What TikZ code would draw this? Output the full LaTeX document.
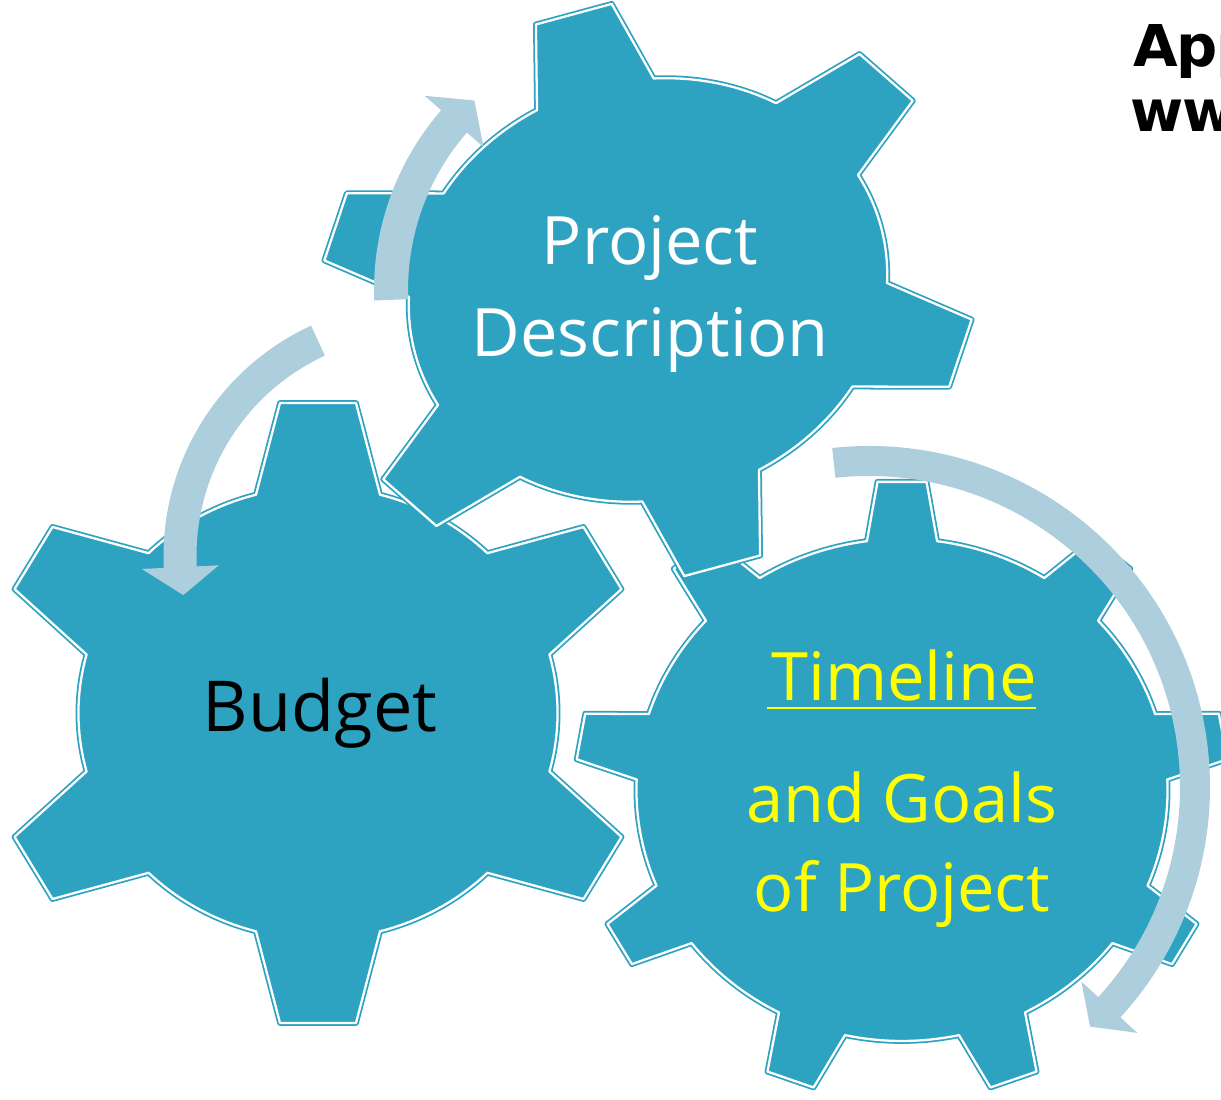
\documentclass[tikz,border=0pt]{standalone}
\usepackage{fontspec}
\setmainfont{Open Sans}
\newfontfamily\webfont[LetterSpace=-3]{DejaVu Sans}
\usetikzlibrary{calc}
\definecolor{gearteal}{HTML}{2EA3C1}
\definecolor{arrowblue}{HTML}{ADCEDC}
\definecolor{textyellow}{HTML}{FFFF00}

\tikzset{
  gear/.style={fill=gearteal, draw=gearteal, double=white, double distance=0.65pt, line width=0.5pt, line join=round},
  turn/.style={fill=arrowblue},
  gearlabel/.style={inner sep=0pt, anchor=base, font=\fontsize{19pt}{19pt}\selectfont},
  webtext/.style={inner sep=0pt, anchor=base west, font=\webfont\bfseries\fontsize{16.4pt}{16.4pt}\selectfont},
}

% teeth, first tooth angle, inner radius, outer radius, base half angle, tip half angle
\newcommand{\gearteeth}[6]{({#2-#5}:#3)
  \foreach \k [evaluate=\k as \ang using #2+(\k-1)*360/#1] in {1,...,#1}{
    -- ({\ang-#6}:#4) -- ({\ang+#6}:#4) -- ({\ang+#5}:#3)
    arc[start angle=\ang+#5, end angle=\ang+360/#1-#5, radius=#3]} -- cycle}

% radius, start angle, end angle, tip angle, half shaft, half head
\newcommand{\arcarrow}[6]{({#2}:{#1+#5}) arc[start angle=#2, end angle=#3, radius=#1+#5]
  -- ({#3}:{#1+#6}) -- ({#4}:#1) -- ({#3}:{#1-#6}) -- ({#3}:{#1-#5})
  arc[start angle=#3, end angle=#2, radius=#1-#5] -- cycle}

\begin{document}
\begin{tikzpicture}
\useasboundingbox (0,0) rectangle (12.21,11);
\clip (0,0) rectangle (12.21,11);

\coordinate (budgetc) at (3.18,3.87);
\coordinate (timec) at (9.02,3.10);
\coordinate (projc) at (6.48,8.10);
\coordinate (turnA) at (6.48,8.10);
\coordinate (turnB) at (4.17,5.44);
\coordinate (turnC) at (8.69,3.13);

\begin{scope}[shift={(budgetc)}, xscale=1.06]
\path[gear] \gearteeth{6}{30}{2.26}{3.12}{15}{6.6};
\end{scope}
\begin{scope}[shift={(timec)}, xscale=1.058]
\path[gear] \gearteeth{9}{10}{2.51}{3.09}{7.6}{4.3};
\end{scope}
\begin{scope}[cm={3.115,-0.63,0.944,2.812,(projc)}]
\path[gear] \gearteeth{6}{0}{0.735}{1.01}{14.5}{6.8};
\end{scope}

\begin{scope}[shift={(turnA)}]
\fill[turn] \arcarrow{2.57}{182.2}{139}{132.5}{0.17}{0.39};
\end{scope}
\begin{scope}[shift={(turnB)}]
\fill[turn] \arcarrow{2.37}{114.7}{182.7}{189.5}{0.165}{0.385};
\end{scope}
\begin{scope}[shift={(turnC)}]
\fill[turn] \arcarrow{3.26}{96.2}{-42.5}{-47.3}{0.15}{0.38};
\end{scope}

\node[gearlabel, text=white] (projname) at (6.50,8.35) {Project};
\node[gearlabel, text=white] (projdesc) at (6.50,7.43) {Description};
\node[gearlabel, text=black, font=\fontsize{20pt}{20pt}\selectfont] (budget) at (3.20,3.68) {Budget};
\node[gearlabel, text=textyellow] (timeline) at (9.04,3.99) {Timeline};
\draw[textyellow, line width=0.75pt] ($(timeline.base west)+(-0.03,-0.07)$) -- ($(timeline.base east)+(-0.02,-0.07)$);
\node[gearlabel, text=textyellow] (goals) at (9.02,2.77) {and Goals};
\node[gearlabel, text=textyellow] (ofproj) at (9.02,1.88) {of Project};

\node[webtext] (app) at (11.33,10.33) {App};
\node[webtext] (www) at (11.30,9.68) {ww};
\end{tikzpicture}
\end{document}
